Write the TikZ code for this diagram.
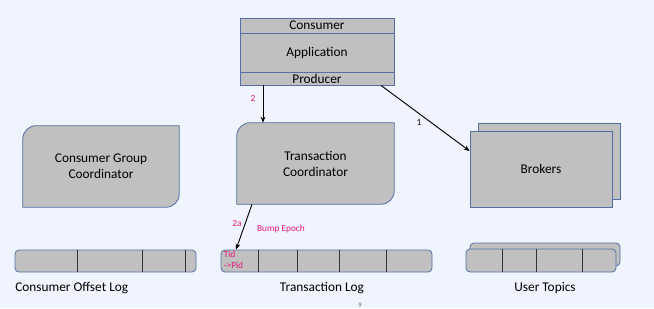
\documentclass[tikz,border=0pt]{standalone}
\usepackage{fontspec}
\setmainfont{Carlito}
\usetikzlibrary{arrows.meta,shadows,backgrounds}

\definecolor{bgblue}{HTML}{F0F4FE}
\definecolor{boxgray}{HTML}{C0C0C0}
\definecolor{boxline}{HTML}{5470A6}
\definecolor{notered}{HTML}{E6177A}

\tikzset{
  box/.style={fill=boxgray, draw=boxline, line width=0.6pt, inner sep=0pt,
    font=\fontsize{10}{12}\selectfont, align=center},
  plain/.style={inner sep=0pt, font=\fontsize{10}{12}\selectfont, align=center},
  logbar/.style={box, rounded corners=3pt},
  cut/.style={draw=black!80, line width=0.6pt},
  note/.style={inner sep=0pt, font=\fontsize{7}{8}\selectfont, text=notered, align=left},
  flow/.style={-{Stealth[length=4.5pt,width=3.5pt]}, line width=0.7pt},
}

\begin{document}
\begin{tikzpicture}[x=0.75pt, y=-0.75pt]

% Application with its consumer and producer
\node[box, minimum width=115.5pt, minimum height=11.25pt] (cons) at (317,25.5) {Consumer};
\node[box, minimum width=115.5pt, minimum height=29.25pt] (app) at (317,52.5) {Application};
\node[box, minimum width=115.5pt, minimum height=9.75pt] (prod) at (317,78.5) {Producer};

% Coordinators (two rounded corners each)
\node[plain, minimum width=117pt, minimum height=60.75pt] (cgc) at (101,166.5) {Consumer Group\\Coordinator};
\node[plain, minimum width=117.75pt, minimum height=60.75pt] (tc) at (315.5,163.5) {Transaction\\Coordinator};

% Brokers
\node[box, minimum width=106.5pt, minimum height=57pt,
  copy shadow={shadow xshift=6pt, shadow yshift=6pt}] (brk) at (541,169) {Brokers};

% Logs
\node[logbar, minimum width=135.75pt, minimum height=16.5pt] (offlog) at (105.5,261) {};
\node[logbar, minimum width=158.25pt, minimum height=16.5pt] (txlog) at (326.5,261) {};
\node[logbar, minimum width=112.5pt, minimum height=17.25pt,
  copy shadow={shadow xshift=3pt, shadow yshift=4.5pt}] (topics) at (541,260.5) {};

\foreach \x in {77,142,185}
  \draw[cut] (\x,0 |- offlog.north) -- (\x,0 |- offlog.south);
\foreach \x in {258,297,339,386}
  \draw[cut] (\x,0 |- txlog.north) -- (\x,0 |- txlog.south);
\foreach \x in {502,536,582}
  \draw[cut] (\x,0 |- topics.north) -- (\x,0 |- topics.south);

\node[note, anchor=north west] (tidpid) at (223.5,251) {Tid\\->Pid};

% Log names
\node[plain, anchor=west] (offname) at (15,288) {Consumer Offset Log};
\node[plain] (txname) at (322,288) {Transaction Log};
\node[plain] (topname) at (545,288) {User Topics};
\node[inner sep=0pt, font=\fontsize{5}{6}\selectfont, text=black!60] (page) at (360,305) {9};

% Flows
\draw[flow] (263,0 |- prod.south) -- (263,0 |- tc.north);
\draw[flow] (381,0 |- prod.south) -- (brk.west |- 0,151);
\draw[flow] (252,0 |- tc.south) -- (236,0 |- txlog.north);

\node[note] (two) at (253,98) {2};
\node[inner sep=0pt, font=\fontsize{7}{8}\selectfont] (one) at (419,122) {1};
\node[note] (twoa) at (237,223) {2a};
\node[note] (bump) at (281,229) {Bump Epoch};

% Background and coordinator outlines
\begin{scope}[on background layer]
  \fill[bgblue] (0,0) rectangle (654,308);
  \foreach \n in {cgc,tc}
    \draw[box] (\n.south west) -- ([yshift=-10pt]\n.north west)
      arc[start angle=180, end angle=90, radius=10pt]
      -- (\n.north east) -- ([yshift=10pt]\n.south east)
      arc[start angle=0, end angle=-90, radius=10pt] -- cycle;
\end{scope}
\useasboundingbox (0,0) rectangle (654,308);

\end{tikzpicture}
\end{document}
